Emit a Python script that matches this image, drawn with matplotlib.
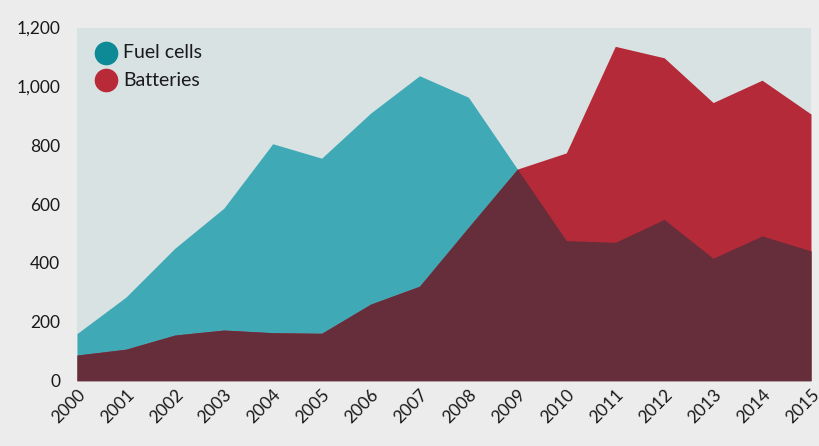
import matplotlib
matplotlib.use("Agg")
import matplotlib.pyplot as plt
import numpy as np
from matplotlib.lines import Line2D

years = list(range(2000, 2016))
fuel_cells = [160, 284, 450, 586, 805, 756, 909, 1036, 963, 719, 476, 470, 548, 416, 492, 441]
batteries = [87, 107, 155, 172, 163, 161, 260, 321, 521, 719, 774, 1136, 1097, 945, 1021, 906]
yticks = [0, 200, 400, 600, 800, 1000, 1200]
ytick_labels = ["0", "200", "400", "600", "800", "1,000", "1,200"]
series_names = ["Fuel cells", "Batteries"]
legend_colors = ["#0e8a97", "#b82a38"]

plt.rcParams['font.family'] = ['Lato', 'DejaVu Sans']

W, H = 819, 446
fig = plt.figure(figsize=(W / 100, H / 100), dpi=100, facecolor="#ececec")
ax = fig.add_axes([77 / W, 1 - 380.7 / H, (811 - 77) / W, (380.7 - 27.5) / H])
ax.set_facecolor("#d8e2e3")

x = np.array(years)
f = np.array(fuel_cells)
b = np.array(batteries)
ax.fill_between(x, 0, f, color="#3fa9b6", lw=0)
ax.fill_between(x, 0, b, color="#b52a38", lw=0)
ax.fill_between(x, 0, np.minimum(f, b), color="#652e3a", lw=0)

ax.set_xlim(2000, 2015)
ax.set_ylim(0, 1200)
ax.set_yticks(yticks)
ax.set_yticklabels(ytick_labels, fontsize=12.5, color="#1a1a1a")
ax.set_xticks(years)
ax.set_xticklabels([str(y) for y in years], rotation=45, ha="right", va="top",
                   rotation_mode="anchor", fontsize=12.5, color="#1a1a1a")
ax.tick_params(axis="both", length=0)
ax.tick_params(axis="y", pad=12)
ax.tick_params(axis="x", pad=4)
for s in ax.spines.values():
    s.set_visible(False)

# legend drawn manually in figure pixel positions
for i, (name, col) in enumerate(zip(series_names, legend_colors)):
    cy = 53 + 27 * i
    fig.add_artist(Line2D([106 / W], [1 - cy / H], marker="o", ls="", markersize=16,
                          color=col, transform=fig.transFigure))
    fig.text(123 / W, 1 - cy / H, name, fontsize=14, color="#1a1a1a", va="center", ha="left")

fig.savefig("out.png", dpi=100, facecolor=fig.get_facecolor())
